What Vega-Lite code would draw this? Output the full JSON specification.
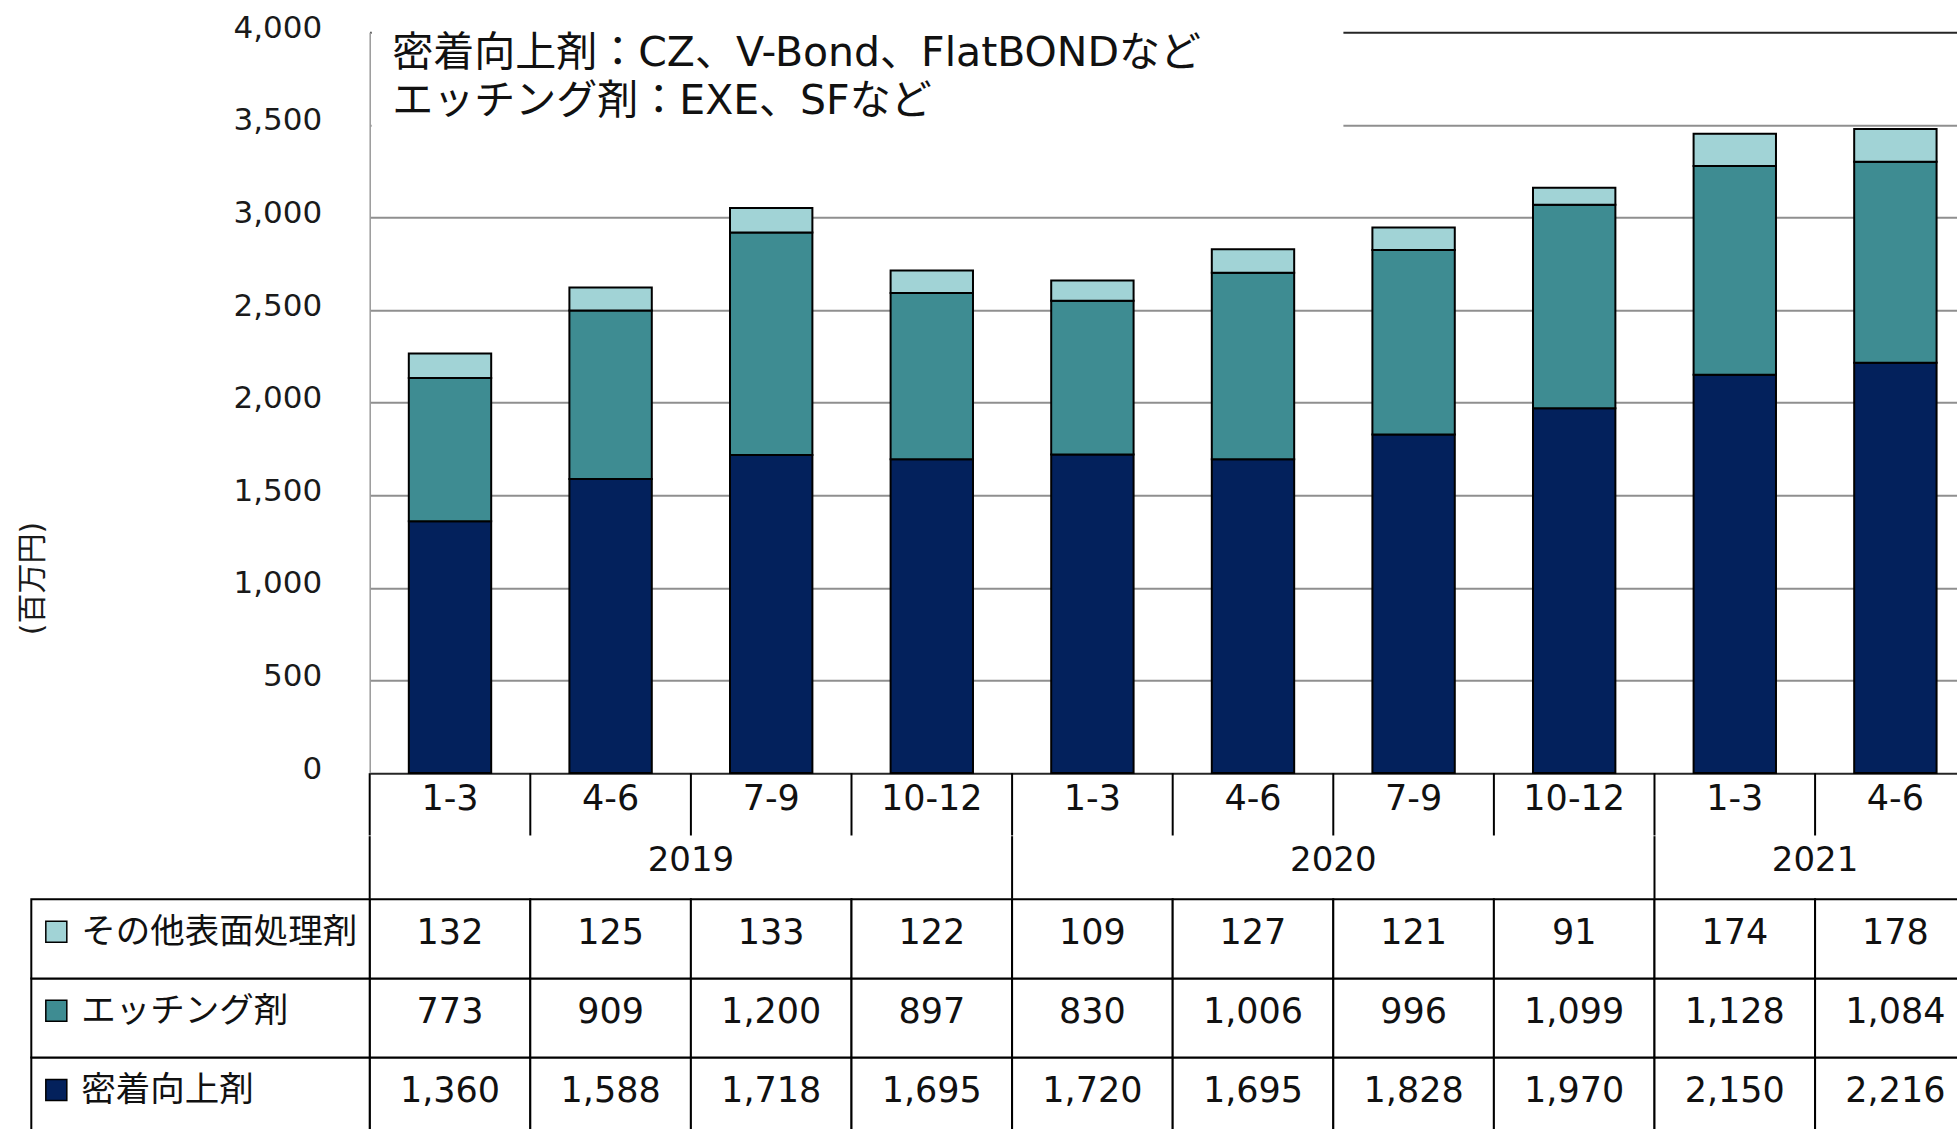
{
  "$schema": "https://vega.github.io/schema/vega-lite/v6.json",
  "background": "white",
  "padding": {"left": 16.7, "top": 12.2, "right": 0, "bottom": 0},
  "spacing": 0,
  "bounds": "flush",
  "config": {
    "view": {"stroke": null},
    "font": "DejaVu Sans, Noto Sans CJK JP",
    "text": {"color": "#111111"}
  },
  "datasets": {
    "main": [
      {"period": "2019 1-3", "year": "2019", "quarter": "1-3", "series": "密着向上剤", "value": 1360},
      {"period": "2019 1-3", "year": "2019", "quarter": "1-3", "series": "エッチング剤", "value": 773},
      {"period": "2019 1-3", "year": "2019", "quarter": "1-3", "series": "その他表面処理剤", "value": 132},
      {"period": "2019 4-6", "year": "2019", "quarter": "4-6", "series": "密着向上剤", "value": 1588},
      {"period": "2019 4-6", "year": "2019", "quarter": "4-6", "series": "エッチング剤", "value": 909},
      {"period": "2019 4-6", "year": "2019", "quarter": "4-6", "series": "その他表面処理剤", "value": 125},
      {"period": "2019 7-9", "year": "2019", "quarter": "7-9", "series": "密着向上剤", "value": 1718},
      {"period": "2019 7-9", "year": "2019", "quarter": "7-9", "series": "エッチング剤", "value": 1200},
      {"period": "2019 7-9", "year": "2019", "quarter": "7-9", "series": "その他表面処理剤", "value": 133},
      {"period": "2019 10-12", "year": "2019", "quarter": "10-12", "series": "密着向上剤", "value": 1695},
      {"period": "2019 10-12", "year": "2019", "quarter": "10-12", "series": "エッチング剤", "value": 897},
      {"period": "2019 10-12", "year": "2019", "quarter": "10-12", "series": "その他表面処理剤", "value": 122},
      {"period": "2020 1-3", "year": "2020", "quarter": "1-3", "series": "密着向上剤", "value": 1720},
      {"period": "2020 1-3", "year": "2020", "quarter": "1-3", "series": "エッチング剤", "value": 830},
      {"period": "2020 1-3", "year": "2020", "quarter": "1-3", "series": "その他表面処理剤", "value": 109},
      {"period": "2020 4-6", "year": "2020", "quarter": "4-6", "series": "密着向上剤", "value": 1695},
      {"period": "2020 4-6", "year": "2020", "quarter": "4-6", "series": "エッチング剤", "value": 1006},
      {"period": "2020 4-6", "year": "2020", "quarter": "4-6", "series": "その他表面処理剤", "value": 127},
      {"period": "2020 7-9", "year": "2020", "quarter": "7-9", "series": "密着向上剤", "value": 1828},
      {"period": "2020 7-9", "year": "2020", "quarter": "7-9", "series": "エッチング剤", "value": 996},
      {"period": "2020 7-9", "year": "2020", "quarter": "7-9", "series": "その他表面処理剤", "value": 121},
      {"period": "2020 10-12", "year": "2020", "quarter": "10-12", "series": "密着向上剤", "value": 1970},
      {"period": "2020 10-12", "year": "2020", "quarter": "10-12", "series": "エッチング剤", "value": 1099},
      {"period": "2020 10-12", "year": "2020", "quarter": "10-12", "series": "その他表面処理剤", "value": 91},
      {"period": "2021 1-3", "year": "2021", "quarter": "1-3", "series": "密着向上剤", "value": 2150},
      {"period": "2021 1-3", "year": "2021", "quarter": "1-3", "series": "エッチング剤", "value": 1128},
      {"period": "2021 1-3", "year": "2021", "quarter": "1-3", "series": "その他表面処理剤", "value": 174},
      {"period": "2021 4-6", "year": "2021", "quarter": "4-6", "series": "密着向上剤", "value": 2216},
      {"period": "2021 4-6", "year": "2021", "quarter": "4-6", "series": "エッチング剤", "value": 1084},
      {"period": "2021 4-6", "year": "2021", "quarter": "4-6", "series": "その他表面処理剤", "value": 178}
    ]
  },
  "vconcat": [
    {
      "width": 1606,
      "height": 740.9,
      "layer": [
        {
          "data": {"name": "main"},
          "mark": {"type": "bar", "stroke": "black", "strokeWidth": 2},
          "encoding": {
            "x": {"field": "period", "type": "nominal", "sort": null, "axis": null,
                  "scale": {"domain": ["2019 1-3","2019 4-6","2019 7-9","2019 10-12","2020 1-3","2020 4-6","2020 7-9","2020 10-12","2021 1-3","2021 4-6"], "paddingInner": 0.487, "paddingOuter": 0.2435}},
            "y": {"field": "value", "type": "quantitative", "stack": "zero",
                  "scale": {"domain": [0, 4000], "nice": false},
                  "axis": {
                    "values": [0, 500, 1000, 1500, 2000, 2500, 3000, 3500, 4000],
                    "labelExpr": "format(datum.value, ',.0f')",
                    "ticks": false, "tickSize": 0,
                    "labelPadding": 48, "labelFontSize": 31, "labelColor": "#1a1a1a", "labelOffset": -4,
                    "domainColor": "#999999", "domainWidth": 1.5,
                    "grid": true,
                    "gridColor": {"condition": {"test": "datum.value === 0 || datum.value === 4000", "value": "#262626"}, "value": "#8f8f8f"},
                    "gridWidth": 2,
                    "title": "(百万円)",
                    "titleFontSize": 30, "titleFontWeight": "normal", "titleColor": "#1a1a1a",
                    "titleAngle": 270, "titleBaseline": "middle", "titleAlign": "center",
                    "titleX": -337.7, "titleY": 545.8
                  }},
            "color": {"field": "series", "type": "nominal", "legend": null,
                      "scale": {"domain": ["密着向上剤", "エッチング剤", "その他表面処理剤"], "range": ["#03215C", "#3E8C92", "#A1D3D6"]}}
          }
        },
        {
          "data": {"values": [{}]},
          "mark": {"type": "rect", "fill": "white"},
          "encoding": {
            "x": {"datum": 0.0012, "type": "quantitative", "axis": null, "scale": {"domain": [0, 1], "range": [0, 1606], "nice": false, "zero": false}},
            "x2": {"datum": 0.6063},
            "y": {"datum": 4012, "type": "quantitative", "axis": null, "scale": {"domain": [0, 4000], "nice": false}},
            "y2": {"datum": 3300}
          }
        },
        {
          "data": {"values": [{"note": "密着向上剤：CZ、V-Bond、FlatBONDなど\nエッチング剤：EXE、SFなど"}]},
          "mark": {"type": "text", "align": "left", "baseline": "middle", "fontSize": 41, "lineBreak": "\n", "lineHeight": 47.4, "color": "#111111"},
          "encoding": {
            "x": {"datum": 0.0141, "type": "quantitative", "axis": null, "scale": {"domain": [0, 1], "range": [0, 1606], "nice": false, "zero": false}},
            "y": {"datum": 3881, "type": "quantitative", "axis": null, "scale": {"domain": [0, 4000], "nice": false}},
            "text": {"field": "note", "type": "nominal"}
          }
        }
      ],
      "resolve": {"scale": {"x": "independent"}, "axis": {"x": "independent", "y": "independent"}}
    },
    {
      "width": 1606,
      "height": 62.3,
      "data": {"name": "main"},
      "transform": [{"filter": "datum.series === '密着向上剤'"}],
      "layer": [
        {
          "mark": {"type": "rule", "stroke": "black", "strokeWidth": 2},
          "encoding": {
            "x": {"field": "period", "type": "nominal", "sort": null, "axis": null, "bandPosition": 0,
                  "scale": {"domain": ["2019 1-3","2019 4-6","2019 7-9","2019 10-12","2020 1-3","2020 4-6","2020 7-9","2020 10-12","2021 1-3","2021 4-6"], "paddingInner": 0, "paddingOuter": 0}}
          }
        },
        {
          "mark": {"type": "text", "fontSize": 35, "baseline": "middle", "dy": -5},
          "encoding": {
            "x": {"field": "period", "type": "nominal", "sort": null, "axis": null,
                  "scale": {"domain": ["2019 1-3","2019 4-6","2019 7-9","2019 10-12","2020 1-3","2020 4-6","2020 7-9","2020 10-12","2021 1-3","2021 4-6"], "paddingInner": 0, "paddingOuter": 0}},
            "text": {"field": "quarter", "type": "nominal"}
          }
        }
      ]
    },
    {
      "width": 1606,
      "height": 62.1,
      "data": {"name": "main"},
      "transform": [{"filter": "datum.series === '密着向上剤'"}],
      "layer": [
        {
          "transform": [{"filter": "datum.quarter === '1-3'"}],
          "mark": {"type": "rule", "stroke": "black", "strokeWidth": 2},
          "encoding": {
            "x": {"field": "period", "type": "nominal", "sort": null, "axis": null, "bandPosition": 0,
                  "scale": {"domain": ["2019 1-3","2019 4-6","2019 7-9","2019 10-12","2020 1-3","2020 4-6","2020 7-9","2020 10-12","2021 1-3","2021 4-6"], "paddingInner": 0, "paddingOuter": 0}}
          }
        },
        {
          "transform": [
            {"window": [{"op": "row_number", "as": "qi"}], "groupby": ["year"]},
            {"joinaggregate": [{"op": "count", "as": "qn"}], "groupby": ["year"]},
            {"filter": "datum.qi === ceil(datum.qn / 2)"}
          ],
          "mark": {"type": "text", "fontSize": 34, "baseline": "middle", "dy": -6},
          "encoding": {
            "x": {"field": "period", "type": "nominal", "sort": null, "axis": null, "bandPosition": 1,
                  "scale": {"domain": ["2019 1-3","2019 4-6","2019 7-9","2019 10-12","2020 1-3","2020 4-6","2020 7-9","2020 10-12","2021 1-3","2021 4-6"], "paddingInner": 0, "paddingOuter": 0}},
            "text": {"field": "year", "type": "nominal"}
          }
        }
      ]
    },
    {
      "width": 1606,
      "height": 237.6,
      "data": {"name": "main"},
      "layer": [
        {
          "mark": {"type": "rect", "fill": "white", "stroke": "black", "strokeWidth": 2},
          "encoding": {
            "x": {"field": "period", "type": "nominal", "sort": null, "axis": null,
                  "scale": {"domain": ["2019 1-3","2019 4-6","2019 7-9","2019 10-12","2020 1-3","2020 4-6","2020 7-9","2020 10-12","2021 1-3","2021 4-6"], "paddingInner": 0, "paddingOuter": 0}},
            "y": {"field": "series", "type": "nominal", "axis": null,
                  "scale": {"domain": ["その他表面処理剤", "エッチング剤", "密着向上剤"], "paddingInner": 0, "paddingOuter": 0}}
          }
        },
        {
          "mark": {"type": "text", "fontSize": 35, "baseline": "middle", "dy": -6},
          "encoding": {
            "x": {"field": "period", "type": "nominal", "sort": null, "axis": null,
                  "scale": {"domain": ["2019 1-3","2019 4-6","2019 7-9","2019 10-12","2020 1-3","2020 4-6","2020 7-9","2020 10-12","2021 1-3","2021 4-6"], "paddingInner": 0, "paddingOuter": 0}},
            "y": {"field": "series", "type": "nominal", "axis": null,
                  "scale": {"domain": ["その他表面処理剤", "エッチング剤", "密着向上剤"], "paddingInner": 0, "paddingOuter": 0}},
            "text": {"field": "value", "type": "quantitative", "format": ","}
          }
        },
        {
          "transform": [{"filter": "datum.period === '2019 1-3'"}],
          "mark": {"type": "rect", "fill": "white", "stroke": "black", "strokeWidth": 2},
          "encoding": {
            "x": {"datum": 0, "type": "quantitative", "axis": null,
                  "scale": {"domain": [0, 1], "range": [-338.4, 0], "nice": false, "zero": false}},
            "x2": {"datum": 1},
            "y": {"field": "series", "type": "nominal", "axis": null,
                  "scale": {"domain": ["その他表面処理剤", "エッチング剤", "密着向上剤"], "paddingInner": 0, "paddingOuter": 0}}
          }
        },
        {
          "transform": [{"filter": "datum.period === '2019 1-3'"}],
          "mark": {"type": "point", "shape": "square", "filled": true, "size": 441, "stroke": "black", "strokeWidth": 1.5, "opacity": 1},
          "encoding": {
            "x": {"datum": 0.0739, "type": "quantitative", "axis": null,
                  "scale": {"domain": [0, 1], "range": [-338.4, 0], "nice": false, "zero": false}},
            "y": {"field": "series", "type": "nominal", "axis": null, "bandPosition": 0.41,
                  "scale": {"domain": ["その他表面処理剤", "エッチング剤", "密着向上剤"], "paddingInner": 0, "paddingOuter": 0}},
            "color": {"field": "series", "type": "nominal", "legend": null,
                      "scale": {"domain": ["密着向上剤", "エッチング剤", "その他表面処理剤"], "range": ["#03215C", "#3E8C92", "#A1D3D6"]}}
          }
        },
        {
          "transform": [{"filter": "datum.period === '2019 1-3'"}],
          "mark": {"type": "text", "align": "left", "baseline": "middle", "fontSize": 34.5, "dy": -6},
          "encoding": {
            "x": {"datum": 0.1478, "type": "quantitative", "axis": null,
                  "scale": {"domain": [0, 1], "range": [-338.4, 0], "nice": false, "zero": false}},
            "y": {"field": "series", "type": "nominal", "axis": null,
                  "scale": {"domain": ["その他表面処理剤", "エッチング剤", "密着向上剤"], "paddingInner": 0, "paddingOuter": 0}},
            "text": {"field": "series", "type": "nominal"}
          }
        }
      ],
      "resolve": {"scale": {"x": "independent"}}
    }
  ]
}
